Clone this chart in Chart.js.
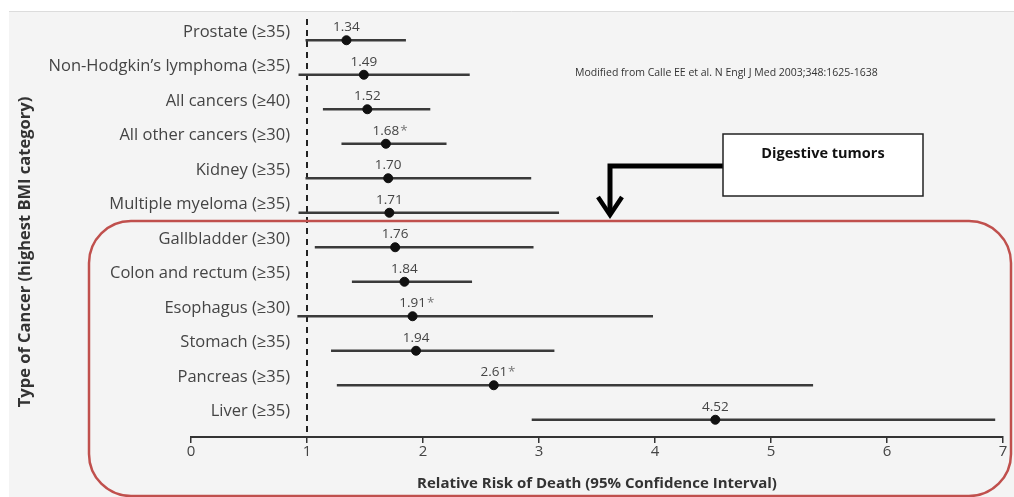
<!DOCTYPE html>
<html>
<head>
<meta charset="utf-8">
<script src="https://cdn.jsdelivr.net/npm/chart.js@4.4.1/dist/chart.umd.min.js"></script>
<style>
  html, body { margin: 0; padding: 0; background: #fff; }
  #wrap { position: relative; width: 1014px; height: 497px; }
</style>
</head>
<body>
<div id="wrap"><canvas id="chart"></canvas></div>
<script>
// Relative risk of cancer death, highest BMI category (Calle et al. 2003)
const categories = [
  'Prostate (≥35)', 'Non-Hodgkin\u2019s lymphoma (≥35)', 'All cancers (≥40)',
  'All other cancers (≥30)', 'Kidney (≥35)', 'Multiple myeloma (≥35)',
  'Gallbladder (≥30)', 'Colon and rectum (≥35)', 'Esophagus (≥30)',
  'Stomach (≥35)', 'Pancreas (≥35)', 'Liver (≥35)'
];
const relRisk = [1.34, 1.49, 1.52, 1.68, 1.70, 1.71, 1.76, 1.84, 1.91, 1.94, 2.61, 4.52];
const ciLow   = [0.99, 0.93, 1.14, 1.30, 0.99, 0.93, 1.07, 1.39, 0.92, 1.21, 1.26, 2.94];
const ciHigh  = [1.85, 2.40, 2.06, 2.20, 2.93, 3.17, 2.95, 2.42, 3.98, 3.13, 5.36, 6.93];
const starred = [false, false, false, true, false, false, false, false, true, false, true, false];
const xTicks  = [0, 1, 2, 3, 4, 5, 6, 7];
const refValue = 1;

const FONT = '"Open Sans", "DejaVu Sans", sans-serif';
const TEXT = '#444';

// gray panel behind everything
const panelBg = {
  id: 'panelBg',
  beforeDraw(chart) {
    const { ctx, width, height } = chart;
    ctx.save();
    ctx.fillStyle = '#fff';
    ctx.fillRect(0, 0, width, height);
    ctx.fillStyle = '#f4f4f4';
    ctx.fillRect(9, 11, width - 9, height - 11);
    ctx.strokeStyle = '#dcdcdc';
    ctx.lineWidth = 1;
    ctx.beginPath();
    ctx.moveTo(9, 11.5);
    ctx.lineTo(width, 11.5);
    ctx.stroke();
    ctx.restore();
  }
};

// dashed reference line at RR = 1
const refLine = {
  id: 'refLine',
  beforeDatasetsDraw(chart) {
    const { ctx, chartArea, scales } = chart;
    const x = Math.round(scales.x.getPixelForValue(refValue));
    ctx.save();
    ctx.strokeStyle = '#222';
    ctx.lineWidth = 2;
    ctx.setLineDash([6, 5]);
    ctx.beginPath();
    ctx.moveTo(x, chartArea.top - 4);
    ctx.lineTo(x, chartArea.bottom);
    ctx.stroke();
    ctx.restore();
  }
};

// category labels sit inside the plot, right-aligned just left of RR = 1,
// and the y title, which is centred lower than the axis middle
const rowLabels = {
  id: 'rowLabels',
  afterDraw(chart) {
    const { ctx, scales } = chart;
    const y = scales.y;
    ctx.save();
    ctx.fillStyle = TEXT;
    ctx.font = '16.5px ' + FONT;
    ctx.textAlign = 'right';
    ctx.textBaseline = 'middle';
    categories.forEach((c, i) => {
      ctx.fillText(c, 290, y.getPixelForValue(i) - 8);
    });
    ctx.translate(25, 252);
    ctx.rotate(-Math.PI / 2);
    ctx.textAlign = 'center';
    ctx.fillStyle = '#333';
    ctx.font = 'bold 16.5px ' + FONT;
    ctx.fillText('Type of Cancer (highest BMI category)', 0, 0);
    ctx.restore();
  }
};

// value labels above the points
const valueLabels = {
  id: 'valueLabels',
  afterDatasetsDraw(chart) {
    const { ctx } = chart;
    const meta = chart.getDatasetMeta(1);
    ctx.save();
    ctx.fillStyle = TEXT;
    ctx.font = '13.5px ' + FONT;
    ctx.textBaseline = 'alphabetic';
    meta.data.forEach((pt, i) => {
      const txt = relRisk[i].toFixed(2);
      ctx.textAlign = 'center';
      ctx.fillText(txt, pt.x, pt.y - 9);
      if (starred[i]) {
        const w = ctx.measureText(txt).width;
        ctx.textAlign = 'left';
        ctx.fillStyle = '#777';
        ctx.fillText('*', pt.x + w / 2 + 1, pt.y - 9);
        ctx.fillStyle = TEXT;
      }
    });
    ctx.restore();
  }
};

// annotations: citation, digestive tumors box + arrow, red rounded frame
const annotations = {
  id: 'annotations',
  afterDraw(chart) {
    const { ctx } = chart;
    ctx.save();

    ctx.fillStyle = '#333';
    ctx.font = '10.5px ' + FONT;
    ctx.textAlign = 'left';
    ctx.textBaseline = 'middle';
    ctx.fillText('Modified from Calle EE et al. N Engl J Med 2003;348:1625-1638', 575, 73);

    // red rounded frame
    ctx.strokeStyle = '#c0504d';
    ctx.lineWidth = 2.5;
    ctx.beginPath();
    ctx.roundRect(89, 221, 922, 275, 42);
    ctx.stroke();

    // arrow
    ctx.strokeStyle = '#000';
    ctx.lineWidth = 5;
    ctx.lineJoin = 'miter';
    ctx.beginPath();
    ctx.moveTo(724, 166);
    ctx.lineTo(610, 166);
    ctx.lineTo(610, 213);
    ctx.stroke();
    ctx.lineWidth = 4.5;
    ctx.beginPath();
    ctx.moveTo(598, 197);
    ctx.lineTo(610, 215);
    ctx.lineTo(622, 197);
    ctx.stroke();

    // label box
    ctx.fillStyle = '#fff';
    ctx.fillRect(723, 134, 200, 62);
    ctx.strokeStyle = '#222';
    ctx.lineWidth = 1.5;
    ctx.strokeRect(723, 134, 200, 62);
    ctx.fillStyle = '#111';
    ctx.font = 'bold 14.5px ' + FONT;
    ctx.textAlign = 'center';
    ctx.fillText('Digestive tumors', 823, 154);

    ctx.restore();
  }
};

new Chart(document.getElementById('chart'), {
  type: 'bar',
  data: {
    labels: categories,
    datasets: [
      {
        type: 'bar',
        label: '95% CI',
        data: categories.map((c, i) => [ciLow[i], ciHigh[i]]),
        backgroundColor: '#3a3a3a',
        borderWidth: 0,
        barThickness: 2,
        order: 2
      },
      {
        type: 'scatter',
        label: 'Relative risk',
        data: categories.map((c, i) => ({ x: relRisk[i], y: c })),
        backgroundColor: '#111',
        borderColor: '#111',
        pointRadius: 4.5,
        order: 1
      }
    ]
  },
  options: {
    indexAxis: 'y',
    responsive: true,
    maintainAspectRatio: false,
    animation: false,
    layout: { padding: { top: 23, right: 11, left: 0, bottom: 0 } },
    plugins: {
      legend: { display: false },
      tooltip: { enabled: false }
    },
    scales: {
      x: {
        type: 'linear',
        position: 'bottom',
        min: xTicks[0],
        max: xTicks[xTicks.length - 1],
        afterBuildTicks: (scale) => { scale.ticks = xTicks.map(v => ({ value: v })); },
        ticks: {
          color: TEXT,
          font: { family: FONT, size: 15 },
          padding: 0,
          maxRotation: 0
        },
        grid: {
          drawOnChartArea: false,
          drawTicks: true,
          tickLength: 6,
          color: '#333',
          lineWidth: 1.5
        },
        border: { display: true, color: '#333', width: 2 },
        title: {
          display: true,
          text: 'Relative Risk of Death (95% Confidence Interval)',
          color: '#333',
          font: { family: FONT, size: 15, weight: 'bold' },
          padding: { top: 0, bottom: 4 }
        },
        afterFit: (scale) => { scale.height = 60; }
      },
      y: {
        type: 'category',
        position: 'left',
        offset: true,
        grid: { display: false, drawTicks: false },
        border: { display: false },
        ticks: { display: false },
        afterFit: (scale) => { scale.width = 191; }
      }
    }
  },
  plugins: [panelBg, refLine, valueLabels, rowLabels, annotations]
});
</script>
</body>
</html>
